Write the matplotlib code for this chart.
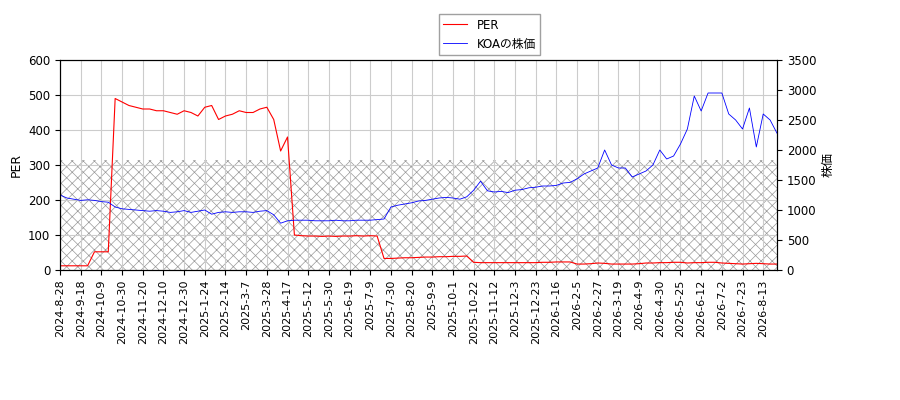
import matplotlib
matplotlib.use("Agg")
import matplotlib.pyplot as plt
import numpy as np

plt.rcParams['font.family'] = ['DejaVu Sans', 'Noto Sans CJK JP']
plt.rcParams['hatch.linewidth'] = 0.5

tick_labels = ["2024-8-28","2024-9-18","2024-10-9","2024-10-30","2024-11-20","2024-12-10","2024-12-30",
"2025-1-24","2025-2-14","2025-3-7","2025-3-28","2025-4-17","2025-5-12","2025-5-30","2025-6-19","2025-7-9",
"2025-7-30","2025-8-20","2025-9-9","2025-10-1","2025-10-22","2025-11-12","2025-12-3","2025-12-23",
"2026-1-16","2026-2-5","2026-2-27","2026-3-19","2026-4-9","2026-4-30","2026-5-25","2026-6-12","2026-7-2",
"2026-7-23","2026-8-13"]

per = [12,12,12,12,12,52,52,52,490,480,470,465,460,460,455,455,450,445,455,450,440,465,470,430,440,445,
455,450,450,460,465,430,340,380,100,98,97,97,96,97,96,97,97,98,97,98,97,33,33,34,35,35,36,37,37,38,38,
39,39,40,22,21,21,21,21,21,21,21,21,21,22,22,23,23,23,17,17,18,20,19,17,17,17,17,18,20,20,21,21,22,22,
20,21,21,22,22,20,19,18,17,18,19,18,17,17]
price = [1250,1200,1180,1160,1170,1160,1140,1130,1050,1020,1010,1000,990,980,990,980,960,970,990,960,980,
1000,930,960,970,960,970,970,960,980,990,920,780,820,830,830,830,820,820,820,830,820,820,830,830,830,840,
850,1050,1080,1100,1120,1150,1160,1180,1200,1210,1200,1180,1220,1330,1480,1320,1300,1310,1290,1330,1340,
1370,1380,1400,1400,1410,1450,1460,1520,1600,1650,1700,2000,1750,1700,1700,1550,1600,1650,1750,2000,1850,
1900,2100,2350,2900,2650,2950,2950,2950,2600,2500,2350,2700,2050,2600,2500,2280]

step = 5
idx = np.arange(len(per)) * step

fig = plt.figure(figsize=(9, 4), dpi=100)
ax = fig.add_axes([60/900, 130/400, 717/900, 210/400])
ax2 = ax.twinx()
ax.axhspan(0, 315, facecolor='none', edgecolor='#999999', hatch='xxx', linewidth=0)
l1, = ax.plot(idx, per, color='red', lw=0.8, label='PER')
l2, = ax2.plot(idx, price, color='blue', lw=0.6, label='KOAの株価')
ax.set_xlim(0, 520)
ax.set_ylim(0, 600)
ax2.set_ylim(0, 3500)
ax.set_yticks(range(0, 601, 100))
ax2.set_yticks(range(0, 3501, 500))
ax.set_xticks(np.arange(len(tick_labels)) * 15)
ax.set_xticklabels(tick_labels, rotation=90, fontsize=8)
ax.tick_params(axis='y', labelsize=8.5)
ax2.tick_params(axis='y', labelsize=8.5)
ax.grid(True, color='#cccccc', lw=0.8)
ax.set_ylabel('PER', fontsize=9)
ax2.set_ylabel('株価', fontsize=9)
fig.legend(handles=[l1, l2], loc='upper center', bbox_to_anchor=(0.544, 0.98), fontsize=8.5,
           fancybox=False, edgecolor='#888888')
fig.savefig('out.png')
